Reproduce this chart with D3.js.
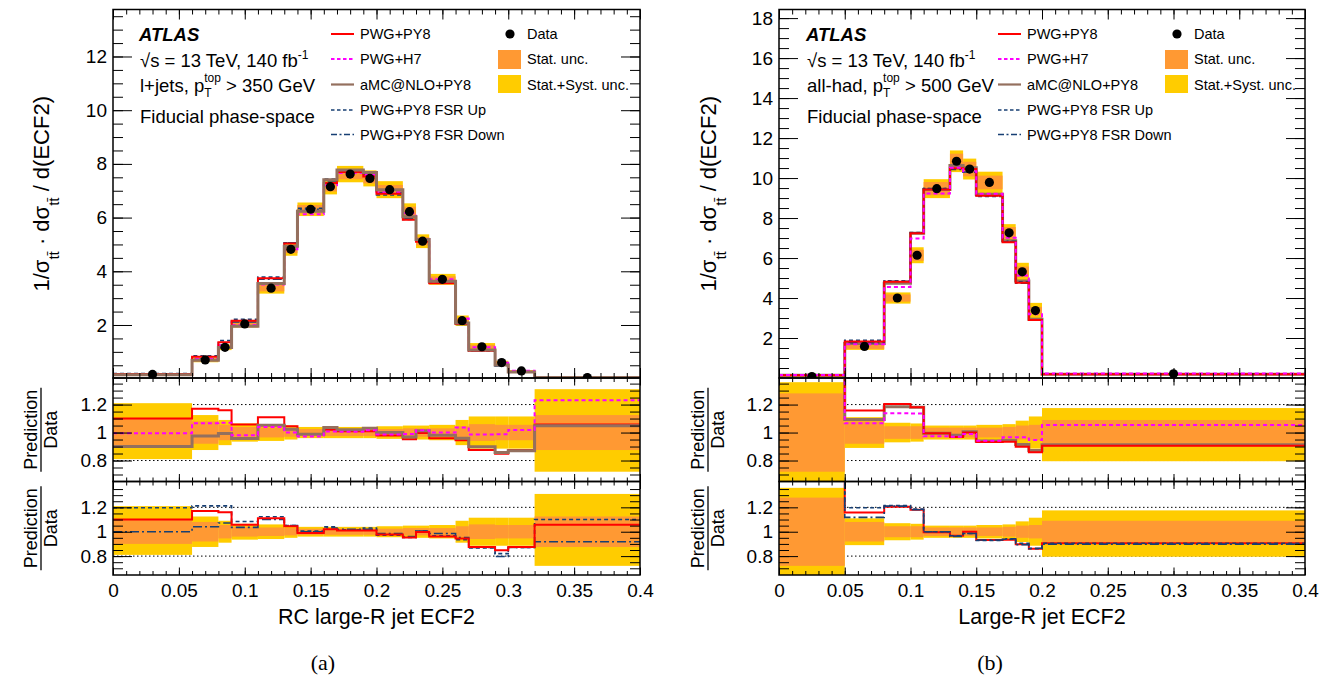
<!DOCTYPE html>
<html>
<head>
<meta charset="utf-8">
<script src="https://cdn.jsdelivr.net/npm/d3@7"></script>
<style>
body { margin: 0; background: #fff; }
text { font-family: "Liberation Sans", Arial, sans-serif; fill: #000; white-space: pre; }
</style>
</head>
<body>
<script>
// ---- (a) RC large-R jet ECF2, l+jets ----
var edgesA = [0, 0.06, 0.08, 0.09, 0.11, 0.13, 0.14, 0.16, 0.17, 0.19, 0.2, 0.22, 0.23, 0.24, 0.26, 0.27, 0.29, 0.3, 0.32, 0.4];
var dataA  = [0.16, 0.70, 1.17, 2.04, 3.37, 4.82, 6.31, 7.15, 7.62, 7.46, 7.04, 6.22, 5.12, 3.70, 2.16, 1.19, 0.60, 0.29, 0.04];
var statA  = [0.10, 0.08, 0.055, 0.04, 0.035, 0.03, 0.025, 0.025, 0.025, 0.025, 0.025, 0.03, 0.03, 0.03, 0.045, 0.06, 0.055, 0.055, 0.125];
var totUpA = [0.21, 0.125, 0.09, 0.065, 0.06, 0.05, 0.04, 0.04, 0.04, 0.04, 0.045, 0.05, 0.05, 0.055, 0.09, 0.115, 0.115, 0.115, 0.31];
var totDnA = [0.19, 0.125, 0.09, 0.065, 0.06, 0.05, 0.04, 0.04, 0.04, 0.04, 0.045, 0.05, 0.05, 0.055, 0.09, 0.115, 0.115, 0.115, 0.28];
// prediction / data
var pwgPy8A = [1.10, 1.17, 1.16, 1.057, 1.11, 1.045, 0.99, 1.02, 1.01, 1.01, 0.978, 0.952, 0.997, 0.96, 0.945, 0.875, 0.848, 0.875, 1.058];
var pwgH7A  = [0.995, 1.067, 1.07, 0.98, 1.04, 1.0, 0.971, 1.007, 1.005, 1.017, 0.986, 0.99, 1.017, 1.0, 1.036, 0.986, 0.988, 1.019, 1.231];
var amcA    = [0.90, 0.976, 0.993, 0.957, 1.052, 1.024, 0.988, 1.036, 1.02, 1.03, 1.0, 0.969, 1.012, 0.981, 0.96, 0.898, 0.857, 0.869, 1.048];
var fsrUpA  = [1.197, 1.212, 1.212, 1.084, 1.123, 1.05, 1.005, 1.04, 1.016, 1.03, 0.972, 0.953, 1.005, 0.967, 0.934, 0.866, 0.82, 0.87, 1.10];
var fsrDnA  = [1.0, 1.041, 1.072, 1.036, 1.10, 1.05, 1.0, 1.03, 1.02, 1.02, 0.985, 0.96, 1.005, 0.986, 0.953, 0.87, 0.797, 0.87, 0.918];

// ---- (b) Large-R jet ECF2, all-had ----
var edgesB = [0, 0.05, 0.08, 0.1, 0.11, 0.13, 0.14, 0.15, 0.17, 0.18, 0.19, 0.2, 0.4];
var dataB  = [0.07, 1.58, 4.0, 6.14, 9.47, 10.84, 10.45, 9.78, 7.26, 5.31, 3.37, 0.21];
var statB  = [0.28, 0.08, 0.045, 0.045, 0.035, 0.035, 0.035, 0.035, 0.04, 0.05, 0.055, 0.09];
var totUpB = [0.36, 0.11, 0.07, 0.065, 0.05, 0.05, 0.05, 0.055, 0.06, 0.085, 0.115, 0.175];
var totDnB = [0.36, 0.11, 0.07, 0.065, 0.05, 0.05, 0.05, 0.055, 0.06, 0.085, 0.115, 0.205];
var pwgPy8B = [2.0, 1.158, 1.205, 1.18, 0.995, 0.968, 1.0, 0.932, 0.935, 0.898, 0.86, 0.905];
var pwgH7B  = [2.1, 1.066, 1.138, 1.136, 0.974, 0.97, 0.99, 0.942, 0.966, 0.966, 0.946, 1.054];
var amcB    = [2.0, 1.093, 1.185, 1.18, 0.995, 0.98, 1.006, 0.94, 0.945, 0.914, 0.872, 0.912];
var fsrUpB  = [2.0, 1.197, 1.215, 1.185, 1.0, 0.967, 0.985, 0.928, 0.938, 0.905, 0.86, 0.906];
var fsrDnB  = [2.0, 1.118, 1.21, 1.18, 1.0, 0.962, 0.986, 0.932, 0.942, 0.893, 0.865, 0.898];

var legendNames = ['PWG+PY8', 'PWG+H7', 'aMC@NLO+PY8', 'PWG+PY8 FSR Up', 'PWG+PY8 FSR Down'];
var legendKeys  = ['red', 'h7', 'amc', 'up', 'dn'];
var xTicks = [0, 0.05, 0.1, 0.15, 0.2, 0.25, 0.3, 0.35, 0.4];
var ratioTicks = [0.8, 1, 1.2];

var width = 1329, height = 681;
var svg = d3.select('body').append('svg').attr('width', width).attr('height', height);

var yTop = 9.5, yMainBot = 378, yR1Bot = 481.5, yR2Bot = 575;
var colStat = '#ff9933', colSyst = '#ffcc00';
var styles = {
    red: {c: '#ff0000', w: 2, dash: null, legDash: null},
    h7:  {c: '#ff00ff', w: 2, dash: '4,3', legDash: '3.5,2.5'},
    amc: {c: '#94705e', w: 3, dash: null, legDash: null},
    up:  {c: '#173f73', w: 1.6, dash: '4,3', legDash: '3.5,2.5'},
    dn:  {c: '#173f73', w: 1.6, dash: '9,3,2,3', legDash: '6,2.5,2,2.5'}
};

var figA = {
    x0: 113, x1: 640, dx: 0, edges: edgesA, data: dataA, stat: statA, totUp: totUpA, totDn: totDnA,
    ratio: {red: pwgPy8A, h7: pwgH7A, amc: amcA, up: fsrUpA, dn: fsrDnA},
    yDom: [0.026, 13.75], yMajor: d3.range(2, 13, 2), r1Dom: [0.65, 1.39], r2Dom: [0.645, 1.412],
    mainOrder: ['up', 'dn', 'h7', 'red', 'amc'], r1Order: ['red', 'amc', 'h7'], r2Order: ['up', 'dn', 'red'],
    chan: 'l+jets, p', cut: ' > 350 GeV', xTitle: 'RC large-R jet ECF2', tag: '(a)', tagX: 323
};
var figB = {
    x0: 779, x1: 1305, dx: 667, edges: edgesB, data: dataB, stat: statB, totUp: totUpB, totDn: totDnB,
    ratio: {red: pwgPy8B, h7: pwgH7B, amc: amcB, up: fsrUpB, dn: fsrDnB},
    yDom: [0, 18.43], yMajor: d3.range(2, 19, 2), r1Dom: [0.65, 1.39], r2Dom: [0.645, 1.412],
    mainOrder: ['amc', 'up', 'dn', 'red', 'h7'], r1Order: ['amc', 'red', 'h7'], r2Order: ['red', 'up', 'dn'],
    chan: 'all-had, p', cut: ' > 500 GeV', xTitle: 'Large-R jet ECF2', tag: '(b)', tagX: 990
};

var clipN = 0;
function clipFor(x0, x1, y0, y1) {
    var id = 'clip' + (clipN++);
    svg.append('clipPath').attr('id', id).append('rect')
        .attr('x', x0).attr('y', y0).attr('width', x1 - x0).attr('height', y1 - y0);
    return 'url(#' + id + ')';
}

function stepPts(edges, vals) {
    var p = [];
    vals.forEach(function(v, i) { p.push([edges[i], v]); p.push([edges[i + 1], v]); });
    return p;
}

function styleAxis(g) {
    g.attr('font-size', null).attr('font-family', null);
    g.select('.domain').remove();
    g.selectAll('.tick line').attr('stroke', '#000').attr('stroke-width', 1);
    g.selectAll('.tick text').style('font-size', '19px');
}

function axesFor(x, y, yMaj, yMin, xMaj, xMin, showX, yFmt) {
    var x0 = x.range()[0], x1 = x.range()[1], t = y.range()[1], b = y.range()[0];
    var xMinor = d3.range(1, 40).map(function(k) { return k / 100; });
    var none = function() { return ''; };
    svg.append('g').attr('transform', 'translate(' + x0 + ',0)')
        .call(d3.axisLeft(y).tickValues(yMaj).tickSize(-19).tickPadding(6).tickFormat(yFmt)).call(styleAxis);
    svg.append('g').attr('transform', 'translate(' + x0 + ',0)')
        .call(d3.axisLeft(y).tickValues(yMin).tickSize(-10).tickFormat(none)).call(styleAxis);
    svg.append('g').attr('transform', 'translate(' + x1 + ',0)')
        .call(d3.axisRight(y).tickValues(yMaj).tickSize(-19).tickFormat(none)).call(styleAxis);
    svg.append('g').attr('transform', 'translate(' + x1 + ',0)')
        .call(d3.axisRight(y).tickValues(yMin).tickSize(-10).tickFormat(none)).call(styleAxis);
    svg.append('g').attr('transform', 'translate(0,' + t + ')')
        .call(d3.axisTop(x).tickValues(xTicks).tickSize(-xMaj).tickFormat(none)).call(styleAxis);
    svg.append('g').attr('transform', 'translate(0,' + t + ')')
        .call(d3.axisTop(x).tickValues(xMinor).tickSize(-xMin).tickFormat(none)).call(styleAxis);
    svg.append('g').attr('transform', 'translate(0,' + b + ')')
        .call(d3.axisBottom(x).tickValues(xTicks).tickSize(-xMaj).tickPadding(9)
            .tickFormat(showX ? function(d) { return String(+d.toFixed(2)); } : none)).call(styleAxis);
    svg.append('g').attr('transform', 'translate(0,' + b + ')')
        .call(d3.axisBottom(x).tickValues(xMinor).tickSize(-xMin).tickFormat(none)).call(styleAxis);
    svg.append('rect').attr('x', x0).attr('y', t).attr('width', x1 - x0).attr('height', b - t)
        .attr('fill', 'none').attr('stroke', '#000').attr('stroke-width', 1.5);
}

function rich(g, x, y, parts, size) {
    var cx = x;
    parts.forEach(function(p) {
        var t = g.append('text').attr('x', cx).attr('y', y + (p.dy || 0))
            .style('font-size', (p.s || size) + 'px').text(p.t);
        if (p.bold) t.style('font-weight', 'bold').style('font-style', 'italic');
        var w = t.node().getComputedTextLength();
        if (p.sup) {
            var t2 = g.append('text').attr('x', cx).attr('y', y + p.supDy)
                .style('font-size', (p.s || size) + 'px').text(p.sup);
            w = Math.max(w, t2.node().getComputedTextLength());
        }
        cx += w;
    });
    return cx - x;
}

function drawFigure(f) {
    var x = d3.scaleLinear().domain([0, 0.4]).range([f.x0, f.x1]);
    var yM = d3.scaleLinear().domain(f.yDom).range([yMainBot, yTop]);
    var yR1 = d3.scaleLinear().domain(f.r1Dom).range([yR1Bot, yMainBot]);
    var yR2 = d3.scaleLinear().domain(f.r2Dom).range([yR2Bot, yR1Bot]);
    var bins = d3.range(f.data.length);

    // main panel
    var gm = svg.append('g').attr('clip-path', clipFor(f.x0, f.x1, yTop, yMainBot));
    gm.selectAll('rect.syst').data(bins).enter().append('rect')
        .attr('x', function(i) { return x(f.edges[i]); })
        .attr('width', function(i) { return x(f.edges[i + 1]) - x(f.edges[i]); })
        .attr('y', function(i) { return yM(f.data[i] * (1 + f.totUp[i])); })
        .attr('height', function(i) { return yM(f.data[i] * (1 - f.totDn[i])) - yM(f.data[i] * (1 + f.totUp[i])); })
        .attr('fill', colSyst);
    gm.selectAll('rect.stat').data(bins).enter().append('rect')
        .attr('x', function(i) { return x(f.edges[i]); })
        .attr('width', function(i) { return x(f.edges[i + 1]) - x(f.edges[i]); })
        .attr('y', function(i) { return yM(f.data[i] * (1 + f.stat[i])); })
        .attr('height', function(i) { return yM(f.data[i] * (1 - f.stat[i])) - yM(f.data[i] * (1 + f.stat[i])); })
        .attr('fill', colStat);
    var lineM = d3.line().x(function(d) { return x(d[0]); }).y(function(d) { return yM(d[1]); });
    f.mainOrder.forEach(function(k) {
        var pred = f.ratio[k].map(function(r, i) { return r * f.data[i]; });
        var s = styles[k];
        gm.append('path').attr('d', lineM(stepPts(f.edges, pred)))
            .attr('fill', 'none').attr('stroke', s.c).attr('stroke-width', s.w).attr('stroke-dasharray', s.dash);
    });
    gm.selectAll('circle').data(bins).enter().append('circle')
        .attr('cx', function(i) { return x((f.edges[i] + f.edges[i + 1]) / 2); })
        .attr('cy', function(i) { return yM(f.data[i]); })
        .attr('r', 4.6).attr('fill', '#000');
    axesFor(x, yM, f.yMajor, d3.range(0.5, f.yDom[1], 0.5), 10, 5, false, d3.format('d'));

    // ratio panels
    [[yR1, f.r1Order, yMainBot, yR1Bot], [yR2, f.r2Order, yR1Bot, yR2Bot]].forEach(function(p, pi) {
        var yr = p[0];
        var g = svg.append('g').attr('clip-path', clipFor(f.x0, f.x1, p[2], p[3]));
        [0.8, 1.2].forEach(function(v) {
            g.append('line').attr('x1', f.x0).attr('x2', f.x1).attr('y1', yr(v)).attr('y2', yr(v))
                .attr('stroke', '#000').attr('stroke-width', 1).attr('stroke-dasharray', '1.5,2.5');
        });
        g.selectAll('rect.syst').data(bins).enter().append('rect')
            .attr('x', function(i) { return x(f.edges[i]); })
            .attr('width', function(i) { return x(f.edges[i + 1]) - x(f.edges[i]); })
            .attr('y', function(i) { return yr(1 + f.totUp[i]); })
            .attr('height', function(i) { return yr(1 - f.totDn[i]) - yr(1 + f.totUp[i]); })
            .attr('fill', colSyst);
        g.selectAll('rect.stat').data(bins).enter().append('rect')
            .attr('x', function(i) { return x(f.edges[i]); })
            .attr('width', function(i) { return x(f.edges[i + 1]) - x(f.edges[i]); })
            .attr('y', function(i) { return yr(1 + f.stat[i]); })
            .attr('height', function(i) { return yr(1 - f.stat[i]) - yr(1 + f.stat[i]); })
            .attr('fill', colStat);
        var lineR = d3.line().x(function(d) { return x(d[0]); }).y(function(d) { return yr(d[1]); });
        p[1].forEach(function(k) {
            var s = styles[k];
            g.append('path').attr('d', lineR(stepPts(f.edges, f.ratio[k])))
                .attr('fill', 'none').attr('stroke', s.c).attr('stroke-width', s.w).attr('stroke-dasharray', s.dash);
        });
        axesFor(x, yr, ratioTicks, d3.range(0.7, 1.37, 0.05), 7.5, 4, pi == 1, function(d) { return String(+d.toFixed(1)); });

        // Prediction / Data
        var cy = (p[2] + p[3]) / 2;
        var gl = svg.append('g').attr('transform', 'translate(' + (41 + f.dx) + ',' + cy + ') rotate(-90)');
        var tp = gl.append('text').attr('x', 0).attr('y', -4).attr('text-anchor', 'middle').style('font-size', '18px').text('Prediction');
        var w = tp.node().getComputedTextLength();
        gl.append('line').attr('x1', -w / 2 - 2).attr('x2', w / 2 + 2).attr('y1', 0).attr('y2', 0).attr('stroke', '#000').attr('stroke-width', 1.3);
        gl.append('text').attr('x', 0).attr('y', 16).attr('text-anchor', 'middle').style('font-size', '18px').text('Data');
    });

    // y title
    var gt = svg.append('g');
    var tw = rich(gt, 0, 0, [
        {t: '1/σ'}, {t: 'tt̄', s: 15, dy: 10}, {t: ' · dσ'}, {t: 'tt̄', s: 15, dy: 10}, {t: ' / d(ECF2)'}
    ], 22);
    gt.attr('transform', 'translate(' + (49 + f.dx) + ',' + ((yTop + yMainBot) / 2) + ') rotate(-90) translate(' + (-tw / 2) + ',0)');

    // x title and tag
    svg.append('text').attr('x', (f.x0 + f.x1) / 2).attr('y', 624).attr('text-anchor', 'middle')
        .style('font-size', '21.5px').text(f.xTitle);
    svg.append('text').attr('x', f.tagX).attr('y', 670).attr('text-anchor', 'middle')
        .style('font-size', '22px').style('font-family', '"Liberation Serif", "Times New Roman", serif').text(f.tag);

    // labels
    var gx = svg.append('g');
    var lx = 140 + f.dx;
    rich(gx, lx - 1, 41, [{t: 'ATLAS', bold: true}], 18.5);
    rich(gx, lx, 67, [{t: '√s = 13 TeV, 140 fb'}, {t: '-1', s: 12, dy: -8}], 18.5);
    rich(gx, lx, 92, [{t: f.chan}, {t: 'T', s: 12, dy: 5, sup: 'top', supDy: -10}, {t: f.cut}], 18.5);
    rich(gx, lx, 123, [{t: 'Fiducial phase-space'}], 18.5);

    // legend
    var rows = [34, 59, 84.5, 110, 134.5];
    legendKeys.forEach(function(k, i) {
        var s = styles[k];
        svg.append('line').attr('x1', 331 + f.dx).attr('x2', 354 + f.dx).attr('y1', rows[i]).attr('y2', rows[i])
            .attr('stroke', s.c).attr('stroke-width', Math.min(s.w, 2.2)).attr('stroke-dasharray', s.legDash);
        svg.append('text').attr('x', 360 + f.dx).attr('y', rows[i] + 5.2).style('font-size', '14.5px').text(legendNames[i]);
    });
    svg.append('circle').attr('cx', 510 + f.dx).attr('cy', rows[0]).attr('r', 4.6).attr('fill', '#000');
    svg.append('text').attr('x', 527 + f.dx).attr('y', rows[0] + 5.2).style('font-size', '14.5px').text('Data');
    svg.append('rect').attr('x', 498 + f.dx).attr('y', 50).attr('width', 23).attr('height', 19).attr('fill', colStat);
    svg.append('text').attr('x', 527 + f.dx).attr('y', rows[1] + 5.2).style('font-size', '14.5px').text('Stat. unc.');
    svg.append('rect').attr('x', 498 + f.dx).attr('y', 75).attr('width', 23).attr('height', 18).attr('fill', colSyst);
    svg.append('text').attr('x', 527 + f.dx).attr('y', rows[2] + 5.2).style('font-size', '14.5px').text('Stat.+Syst. unc.');
}

drawFigure(figA);
drawFigure(figB);
</script>
</body>
</html>
